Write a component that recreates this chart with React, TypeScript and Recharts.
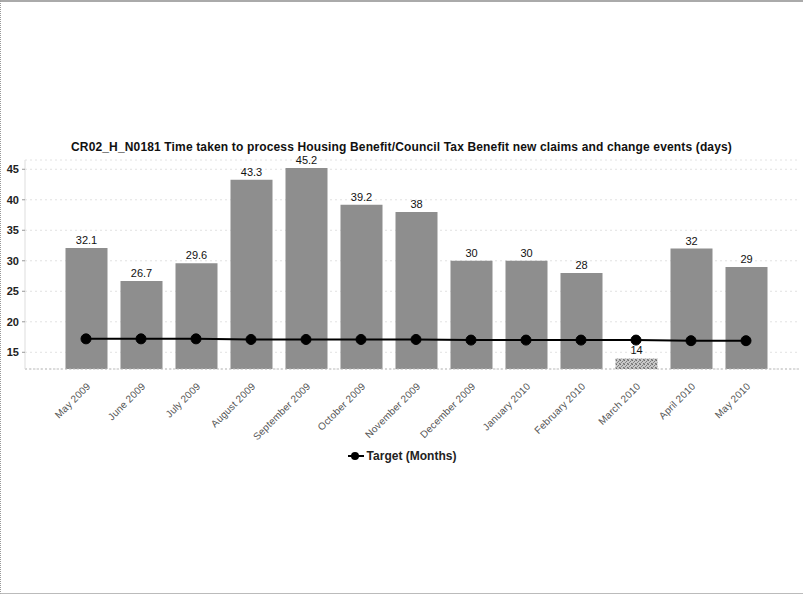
import {
  Bar,
  CartesianGrid,
  Cell,
  ComposedChart,
  LabelList,
  Legend,
  Line,
  XAxis,
  YAxis,
} from 'recharts'

const MONTHS = [
  'May 2009',
  'June 2009',
  'July 2009',
  'August 2009',
  'September 2009',
  'October 2009',
  'November 2009',
  'December 2009',
  'January 2010',
  'February 2010',
  'March 2010',
  'April 2010',
  'May 2010',
]

// days taken per month (bar labels)
const DAYS_TAKEN = [32.1, 26.7, 29.6, 43.3, 45.2, 39.2, 38, 30, 30, 28, 14, 32, 29]

// target line
const TARGET = [17.2, 17.2, 17.2, 17.1, 17.1, 17.1, 17.1, 17.0, 17.0, 17.0, 17.0, 16.9, 16.9]

const Y_TICKS = [15, 20, 25, 30, 35, 40, 45]

// months that get the stippled fill instead of plain grey
const STIPPLED_MONTHS = ['March 2010']

const TITLE =
  'CR02_H_N0181 Time taken to process Housing Benefit/Council Tax Benefit new claims and change events (days)'

const FONT = 'Arial, "Liberation Sans", sans-serif'

function MonthTick({ x, y, payload }: any) {
  return (
    <g transform={`translate(${x + 5},${y + 10})`}>
      <text
        x={0}
        y={0}
        textAnchor="end"
        transform="rotate(-45)"
        fontSize={10}
        letterSpacing={0.15}
        fontFamily={FONT}
        fill="#555"
      >
        {payload.value}
      </text>
    </g>
  )
}

function TargetLegend() {
  return (
    <div
      style={{
        display: 'flex',
        justifyContent: 'center',
        alignItems: 'center',
        fontFamily: FONT,
        fontWeight: 'bold',
        fontSize: 12,
        color: '#222',
      }}
    >
      <svg width={18} height={12} style={{ marginRight: 2 }}>
        <line x1={1} y1={6} x2={17} y2={6} stroke="#000" strokeWidth={2} />
        <circle cx={8} cy={6} r={4} fill="#000" />
      </svg>
      <span>Target (Months)</span>
    </div>
  )
}

export default function App() {
  const data = MONTHS.map((month, i) => ({
    month,
    days: DAYS_TAKEN[i],
    target: TARGET[i],
  }))

  return (
    <div
      style={{
        position: 'absolute',
        left: 0,
        top: 0,
        width: 803,
        height: 594,
        background: '#fff',
        boxSizing: 'border-box',
        borderTop: '2px solid #aaa',
        borderLeft: '1px dotted #999',
        borderBottom: '1px solid #bbb',
      }}
    >
      <div
        style={{
          position: 'absolute',
          top: 138,
          left: 0,
          width: 801,
          textAlign: 'center',
          fontFamily: FONT,
          fontWeight: 'bold',
          fontSize: 12,
          letterSpacing: 0.15,
          color: '#111',
        }}
      >
        {TITLE}
      </div>
      <div style={{ position: 'absolute', left: -1, top: -2 }}>
        <ComposedChart
          width={803}
          height={594}
          data={data}
          margin={{ top: 160, right: 3, bottom: 155, left: 5 }}
        >
          <defs>
            <pattern id="stipple" width={4} height={4} patternUnits="userSpaceOnUse">
              <rect width={4} height={4} fill="#c8c8c8" />
              <rect x={0} y={0} width={1} height={1} fill="#6e6e6e" />
              <rect x={2} y={1} width={1} height={1} fill="#7c7c7c" />
              <rect x={1} y={2} width={1} height={1} fill="#888" />
              <rect x={3} y={3} width={1} height={1} fill="#747474" />
              <rect x={3} y={0} width={1} height={1} fill="#999" />
              <rect x={0} y={3} width={1} height={1} fill="#9a9a9a" />
            </pattern>
          </defs>
          <CartesianGrid
            vertical={false}
            stroke="#e2e2e2"
            strokeDasharray="2 3"
          />
          <XAxis
            dataKey="month"
            interval={0}
            height={70}
            padding={{ left: 33.5, right: 26.5 }}
            tick={<MonthTick />}
            tickLine={false}
            axisLine={{ stroke: '#bbb', strokeDasharray: '2 2' }}
          />
          <YAxis
            width={20}
            domain={[12.26, 46.52]}
            ticks={Y_TICKS}
            allowDataOverflow
            tickSize={3}
            tickMargin={3}
            tick={{ fontSize: 11, fontFamily: FONT, fill: '#222', fontWeight: 'bold' }}
            tickLine={{ stroke: '#999' }}
            axisLine={{ stroke: '#ddd' }}
          />
          <Bar dataKey="days" barSize={42} fill="#8e8e8e" isAnimationActive={false}>
            {data.map((d) => (
              <Cell
                key={d.month}
                fill={STIPPLED_MONTHS.includes(d.month) ? 'url(#stipple)' : '#8e8e8e'}
              />
            ))}
            <LabelList
              dataKey="days"
              position="top"
              offset={4}
              fontSize={11}
              fontFamily={FONT}
              fill="#111"
            />
          </Bar>
          <Line
            type="linear"
            dataKey="target"
            stroke="#000"
            strokeWidth={2}
            dot={{ r: 5, fill: '#000', stroke: '#000', strokeWidth: 1 }}
            isAnimationActive={false}
          />
          <Legend
            verticalAlign="middle"
            wrapperStyle={{ top: 449, left: 0, width: 803 }}
            content={<TargetLegend />}
          />
        </ComposedChart>
      </div>
    </div>
  )
}
